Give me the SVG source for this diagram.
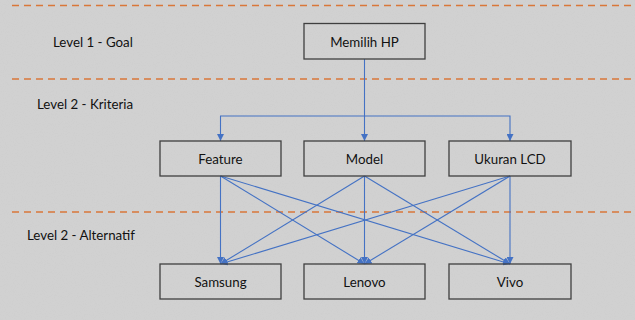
<svg xmlns="http://www.w3.org/2000/svg" width="635" height="320" viewBox="0 0 635 320">
<defs>
<marker id="ah" viewBox="0 0 10 10" refX="10" refY="5" markerWidth="7" markerHeight="7" markerUnits="userSpaceOnUse" orient="auto">
<path d="M0,0 L10,5 L0,10 z" fill="#4472c4"/>
</marker>
<filter id="tex" x="0" y="0" width="100%" height="100%">
<feTurbulence type="fractalNoise" baseFrequency="0.9" numOctaves="2" seed="3" result="n"/>
<feColorMatrix type="matrix" values="0 0 0 0 0.8  0 0 0 0 0.8  0 0 0 0 0.8  0 0 0 0.35 0" in="n" result="c"/>
<feBlend in="SourceGraphic" in2="c" mode="multiply"/>
</filter>
</defs>
<style>
.box{fill:none;stroke:#3f3f3f;stroke-width:1.3}
.lbl{font-family:Lato,"Open Sans","Liberation Sans",sans-serif;font-size:13.3px;fill:#111;text-anchor:middle}
.lvl{font-family:Lato,"Open Sans","Liberation Sans",sans-serif;font-size:13.3px;fill:#111}
.sep{stroke:#d9773a;stroke-width:1.4;stroke-dasharray:7,5;fill:none}
.con{stroke:#4472c4;stroke-width:1.1;fill:none}
</style>
<rect width="635" height="320" fill="#d3d3d3"/>
<rect width="635" height="320" fill="#d3d3d3" filter="url(#tex)" opacity="0.6"/>
<g id="separators">
<line class="sep" x1="12" y1="5.5" x2="635" y2="5.5"/>
<line class="sep" x1="12" y1="79" x2="635" y2="79"/>
<line class="sep" x1="12" y1="212" x2="635" y2="212"/>
</g>
<g id="levels">
<text class="lvl" x="53" y="46.5">Level 1 - Goal</text>
<text class="lvl" x="37" y="108.5">Level 2 - Kriteria</text>
<text class="lvl" x="27" y="239.5">Level 2 - Alternatif</text>
</g>
<g id="connectors">
<path class="con" d="M364.5,59 L364.5,141" marker-end="url(#ah)"/>
<path class="con" d="M364.5,116 L220.5,116 L220.5,141" marker-end="url(#ah)"/>
<path class="con" d="M364.5,116 L510,116 L510,141" marker-end="url(#ah)"/>
<path class="con" d="M220.5,176 L220.5,264" marker-end="url(#ah)"/>
<path class="con" d="M220.5,176 L364.5,264" marker-end="url(#ah)"/>
<path class="con" d="M220.5,176 L510,264" marker-end="url(#ah)"/>
<path class="con" d="M364.5,176 L220.5,264" marker-end="url(#ah)"/>
<path class="con" d="M364.5,176 L364.5,264" marker-end="url(#ah)"/>
<path class="con" d="M364.5,176 L510,264" marker-end="url(#ah)"/>
<path class="con" d="M510,176 L220.5,264" marker-end="url(#ah)"/>
<path class="con" d="M510,176 L364.5,264" marker-end="url(#ah)"/>
<path class="con" d="M510,176 L510,264" marker-end="url(#ah)"/>
</g>
<g id="goal"><rect class="box" x="304" y="23.5" width="121" height="35.5"/><text class="lbl" x="364.5" y="46.5">Memilih HP</text></g>
<g id="feature"><rect class="box" x="160" y="141" width="121" height="35"/><text class="lbl" x="220.5" y="163.5">Feature</text></g>
<g id="model"><rect class="box" x="304" y="141" width="121" height="35"/><text class="lbl" x="364.5" y="163.5">Model</text></g>
<g id="ukuran"><rect class="box" x="449" y="141" width="122" height="35"/><text class="lbl" x="510" y="163.5">Ukuran LCD</text></g>
<g id="samsung"><rect class="box" x="160" y="264" width="121" height="35"/><text class="lbl" x="220.5" y="286.5">Samsung</text></g>
<g id="lenovo"><rect class="box" x="304" y="264" width="121" height="35"/><text class="lbl" x="364.5" y="286.5">Lenovo</text></g>
<g id="vivo"><rect class="box" x="449" y="264" width="122" height="35"/><text class="lbl" x="510" y="286.5">Vivo</text></g>
</svg>
